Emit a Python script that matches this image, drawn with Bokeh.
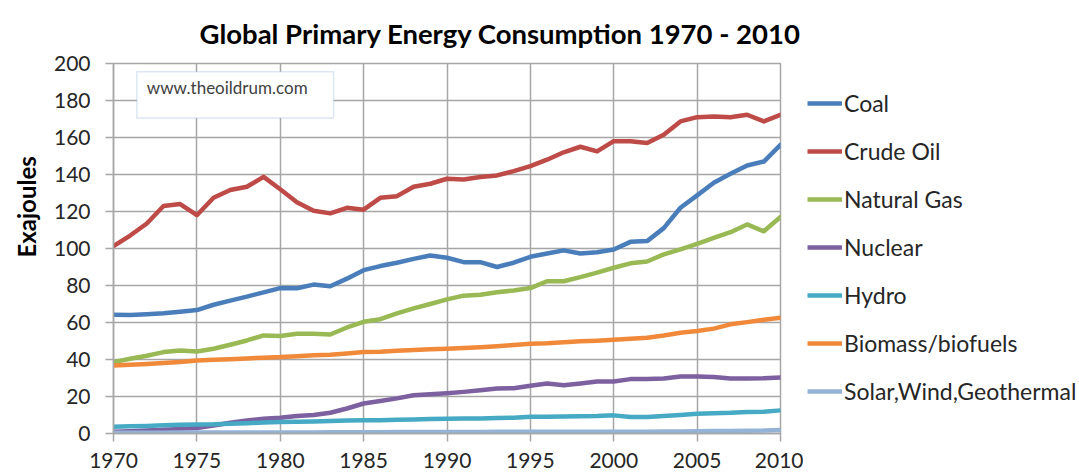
from bokeh.plotting import figure
from bokeh.layouts import row
from bokeh.models import Legend, LegendItem, Label, BoxAnnotation, ColumnDataSource, FixedTicker, Title
from bokeh.embed import file_html
from bokeh.resources import INLINE

years = list(range(1970, 2011))
coal = [64.2, 64, 64.5, 65, 65.8, 66.7, 69.6, 71.8, 74, 76.3,
        78.6, 78.5, 80.5, 79.6, 83.7, 88.3, 90.5, 92.3, 94.4, 96.2,
        95, 92.6, 92.6, 90, 92.3, 95.5, 97.3, 99, 97.3, 98,
        99.5, 103.6, 104, 111, 122, 128.7, 135.5, 140.4, 144.9, 147, 156]
crude_oil = [101.3, 107, 113.5, 123, 124, 118, 127.4, 131.6, 133.4, 138.7,
             132, 125, 120.4, 119, 122, 121, 127.4, 128.3, 133.4, 135,
             137.7, 137.3, 138.7, 139.5, 141.8, 144.5, 148, 152, 155, 152.5,
             158, 158, 157, 161.5, 168.7, 171, 171.4, 171, 172.3, 168.7, 172.3]
natural_gas = [38.6, 40.4, 42, 44, 44.9, 44.3, 45.8, 48, 50.3, 53,
               52.7, 53.9, 53.9, 53.5, 57.3, 60.4, 61.8, 64.9, 67.6, 70,
               72.5, 74.5, 75, 76.4, 77.3, 78.6, 82.3, 82.3, 84.5, 87,
               89.6, 92, 93, 96.8, 99.5, 102.5, 105.7, 108.8, 113, 109.3, 117]
nuclear = [0.9, 1.2, 1.6, 2.0, 2.5, 3.0, 4.3, 5.8, 7.0, 8.0,
           8.5, 9.4, 10, 11.2, 13.5, 16.2, 17.6, 19, 20.7, 21.2,
           21.8, 22.5, 23.4, 24.3, 24.5, 25.8, 27, 26.1, 27, 28.1,
           28.1, 29.4, 29.4, 29.7, 30.8, 30.8, 30.6, 29.7, 29.7, 29.9, 30.3]
hydro = [3.6, 3.9, 4.1, 4.4, 4.7, 4.9, 5.0, 5.3, 5.6, 5.9,
         6.2, 6.3, 6.5, 6.8, 7.0, 7.1, 7.2, 7.4, 7.6, 7.8,
         8.0, 8.1, 8.1, 8.4, 8.5, 9.0, 9.1, 9.2, 9.3, 9.4,
         9.8, 8.9, 8.9, 9.4, 10.0, 10.7, 11.0, 11.2, 11.6, 11.8, 12.5]
biomass = [36.7, 37.2, 37.6, 38.1, 38.7, 39.5, 39.8, 40.2, 40.6, 41.0,
           41.3, 41.8, 42.3, 42.6, 43.2, 44.0, 44.2, 44.7, 45.2, 45.5,
           45.8, 46.2, 46.6, 47.1, 47.8, 48.5, 48.8, 49.3, 49.8, 50.2,
           50.7, 51.2, 51.8, 53, 54.5, 55.4, 56.7, 59, 60.2, 61.5, 62.6]
solar_wind_geo = [0.4, 0.4, 0.4, 0.4, 0.5, 0.5, 0.5, 0.5, 0.5, 0.6,
                  0.6, 0.6, 0.6, 0.7, 0.7, 0.7, 0.7, 0.8, 0.8, 0.8,
                  0.8, 0.8, 0.8, 0.9, 0.9, 0.9, 0.9, 0.9, 1.0, 1.0,
                  1.0, 1.0, 1.0, 1.1, 1.1, 1.2, 1.3, 1.4, 1.5, 1.6, 1.9]

series_names = ["Coal", "Crude Oil", "Natural Gas", "Nuclear", "Hydro",
                "Biomass/biofuels", "Solar,Wind,Geothermal"]
series_values = [coal, crude_oil, natural_gas, nuclear, hydro, biomass, solar_wind_geo]
colors = ["#4A7EBB", "#BE4B48", "#98B954", "#7D60A0", "#46AAC5", "#F08A3A", "#95B3D7"]

x_ticks = list(range(1970, 2011, 5))
y_ticks = list(range(0, 201, 20))

FONT = "Lato"
TXT = "#262626"
GRID = "#A6A6A6"

src = dict(year=years)
for name, vals in zip(series_names, series_values):
    src[name] = vals
source = ColumnDataSource(src)

p = figure(width=803, height=475, x_range=(1970, 2010), y_range=(0, 200),
           output_backend="svg", toolbar_location=None,
           min_border_left=112, min_border_right=23, min_border_top=63, min_border_bottom=42)
p.outline_line_color = GRID
p.outline_line_width = 1.5

p.title = Title(text="Global Primary Energy Consumption 1970 - 2010", align="left", offset=86,
                text_font=FONT, text_font_size="27.5px", text_font_style="bold", text_color="black",
                standoff=27)

p.xaxis.ticker = FixedTicker(ticks=x_ticks)
p.yaxis.ticker = FixedTicker(ticks=y_ticks)
for ax in (p.xaxis[0], p.yaxis[0]):
    ax.major_label_text_font = FONT
    ax.major_label_text_font_size = "21px"
    ax.major_label_text_color = TXT
    ax.axis_line_color = GRID
    ax.axis_line_width = 1.5
    ax.major_tick_line_color = GRID
    ax.major_tick_line_width = 1.5
    ax.major_tick_out = 8
    ax.major_tick_in = 0
    ax.minor_tick_line_color = None
p.xaxis.major_label_standoff = 11
p.yaxis.major_label_standoff = 15

p.xgrid.ticker = FixedTicker(ticks=x_ticks)
p.ygrid.ticker = FixedTicker(ticks=y_ticks)
p.grid.grid_line_color = GRID
p.grid.grid_line_width = 1.5

ytitle = Title(text="Exajoules", align="left", offset=176, text_font=FONT,
               text_font_size="24px", text_font_style="bold", text_color="black", standoff=19)
p.add_layout(ytitle, "left")

for name, color in zip(series_names, colors):
    p.line(x="year", y=name, source=source, line_color=color, line_width=4.5,
           line_join="round", line_cap="round")

box = BoxAnnotation(left=1971.4, right=1983.2, bottom=170.6, top=195.6,
                    fill_color="white", fill_alpha=1.0, line_color="#8FB0DA", line_width=1.5)
p.add_layout(box)
wm = Label(x=1972.0, y=187.0, text="www.theoildrum.com", text_font=FONT, text_font_size="17px",
           text_color="#404040", text_baseline="middle")
p.add_layout(wm)

# legend panel (its own small figure; lines lie outside its ranges)
lf = figure(width=276, height=475, x_range=(0, 1), y_range=(0, 1),
            output_backend="svg", toolbar_location=None,
            x_axis_type=None, y_axis_type=None,
            min_border_left=0, min_border_right=0, min_border_top=63, min_border_bottom=42)
lf.outline_line_color = None
lf.grid.visible = False
items = []
for name, color in zip(series_names, colors):
    r = lf.line(x="year", y=name, source=source, line_color=color, line_width=4.5)
    items.append(LegendItem(label=name, renderers=[r]))
legend = Legend(items=items, location=(4, 28), orientation="vertical",
                label_text_font=FONT, label_text_font_size="23px", label_text_color=TXT,
                glyph_width=35, glyph_height=20, label_height=20, label_standoff=2,
                spacing=20, padding=0, margin=0, border_line_color=None,
                background_fill_alpha=0)
lf.add_layout(legend)

layout = row(p, lf, spacing=0)
open("out.html", "w").write(file_html(layout, INLINE))
